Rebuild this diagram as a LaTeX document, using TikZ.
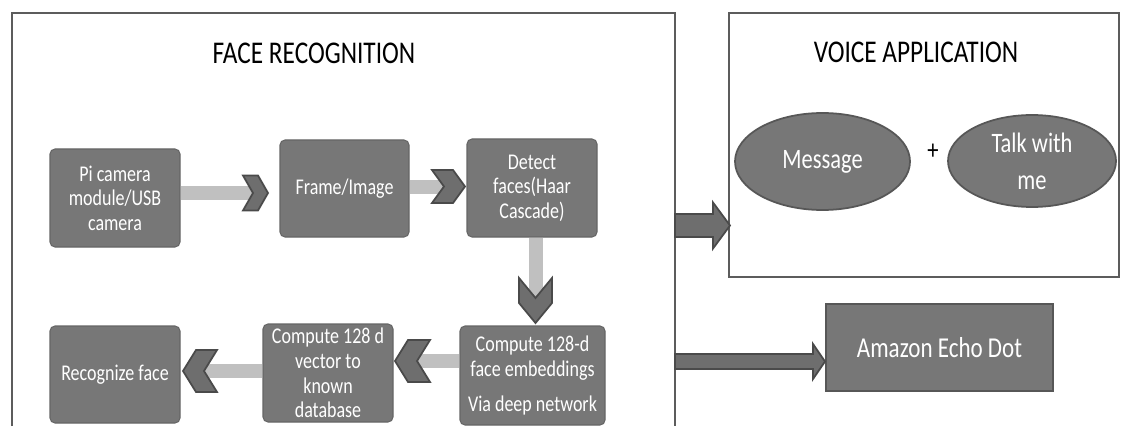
\documentclass[tikz,border=0pt]{standalone}
\usepackage{fontspec}
\setmainfont[FakeStretch=0.8]{Carlito}
\usetikzlibrary{positioning, shapes.geometric, calc}

\definecolor{boxgray}{HTML}{777777}
\definecolor{boxline}{HTML}{666666}
\definecolor{ovalline}{HTML}{575757}
\definecolor{barlight}{HTML}{C0C0C0}
\definecolor{chevgray}{HTML}{6E6E6E}
\definecolor{chevline}{HTML}{4A4A4A}
\definecolor{panelline}{HTML}{5C5C5C}

\tikzset{
    block/.style = {shape = rectangle, rounded corners = 0.05cm, fill = boxgray, draw = boxline,
        line width = 0.3pt, text = white, align = center, inner sep = 0pt,
        minimum width = 1.30cm, minimum height = 0.98cm, font = \fontsize{6.4}{7}\selectfont},
    oval/.style = {shape = ellipse, fill = boxgray, draw = ovalline, line width = 0.5pt,
        text = white, align = center, inner sep = 0pt, font = \fontsize{8}{10.5}\selectfont},
    heading/.style = {anchor = base, inner sep = 0pt, font = \fontsize{9}{11}\selectfont},
    panel/.style = {draw = panelline, line width = 0.6pt},
    bar/.style = {draw = barlight, line width = 0.14cm},
    chev fill/.style = {fill = chevgray, draw = chevline, line width = 0.5pt, line join = miter},
    fat arrow/.style = {fill = chevgray, draw = chevline, line width = 0.5pt},
    % chevron head, tip at the origin: length/half width/notch
    pics/chev/.style args = {#1/#2/#3}{code = {
        \filldraw [chev fill] (0, 0) -- (-#3, #2) -- (-#1, #2) -- (-#1 + #3, 0)
            -- (-#1, -#2) -- (-#3, -#2) -- cycle;
    }}
}

\begin{document}
\begin{tikzpicture}
    \useasboundingbox (0, 0) rectangle (11.21, 4.30);

    % the two panels
    \node [minimum width = 6.63cm, minimum height = 4.13cm, inner sep = 0pt, outer sep = 0pt] (face) at (3.435, 2.105) {};
    \draw [panel] (face.south west) |- (face.north east) -- (face.south east);
    \node [panel, minimum width = 3.90cm, minimum height = 2.64cm, inner sep = 0pt, outer sep = 0pt] (voice) at (9.24, 2.85) {};

    \node [heading] (facetitle) at (3.14, 3.667) {FACE RECOGNITION};
    \node [heading] (voicetitle) at (9.16, 3.67) {VOICE APPLICATION};

    % face recognition steps
    \node [block] (cam) at (1.15, 2.32) {Pi camera\\ module/USB\\ camera};
    \node [block, minimum width = 1.29cm, minimum height = 0.97cm] (frame) at (3.445, 2.415) {Frame/Image};
    \node [block] (detect) at (5.32, 2.42) {Detect\\ faces(Haar\\ Cascade)};
    \node [block, minimum width = 1.45cm, minimum height = 0.99cm] (embed) at (5.325, 0.545) {Compute 128-d\\ face embeddings\\[0.1cm] Via deep network};
    \node [block] (vector) at (3.28, 0.57) {Compute 128 d\\ vector to\\ known\\ database};
    \node [block, minimum height = 0.97cm] (recog) at (1.15, 0.555) {Recognize face};

    % chevron tips
    \coordinate (t1) at (2.68, 2.37);
    \coordinate (t2) at (4.65, 2.435);
    \coordinate (t3) at (5.355, 1.07);
    \coordinate (t4) at (3.95, 0.69);
    \coordinate (t5) at (1.83, 0.59);

    \draw [bar] (cam.east |- t1) -- ([xshift = -0.1cm] t1);
    \draw [bar] (frame.east |- t2) -- ([xshift = -0.1cm] t2);
    \draw [bar] (detect.south -| t3) -- ([yshift = 0.1cm] t3);
    \draw [bar] (embed.west |- t4) -- ([xshift = 0.1cm] t4);
    \draw [bar] (vector.west |- t5) -- ([xshift = 0.1cm] t5);

    \pic at (t1) {chev = 0.25/0.175/0.10};
    \pic at (t2) {chev = 0.33/0.165/0.12};
    \pic [rotate = -90] at (t3) {chev = 0.45/0.165/0.20};
    \pic [rotate = 180] at (t4) {chev = 0.35/0.21/0.13};
    \pic [rotate = 180] at (t5) {chev = 0.34/0.21/0.13};

    % voice application
    \node [oval, minimum width = 1.75cm, minimum height = 0.97cm] (msg) at (8.225, 2.685) {Message};
    \node [font = \fontsize{8}{10}\selectfont] (plus) at (9.33, 2.78) {+};
    \node [oval, minimum width = 1.68cm, minimum height = 0.92cm] (talk) at (10.32, 2.69) {Talk with\\ me};

    \node [block, rounded corners = 0pt, draw = ovalline, line width = 0.5pt, minimum width = 2.27cm,
        minimum height = 0.87cm, font = \fontsize{8.2}{9}\selectfont] (echo) at (9.395, 0.825) {Amazon Echo Dot};

    % outputs of the face panel
    \coordinate (vin) at (7.30, 2.045);
    \coordinate (ein) at (8.25, 0.685);
    \filldraw [fat arrow] ($(face.east |- vin) + (0, 0.115)$) -- ($(vin) + (-0.17, 0.115)$) -- ($(vin) + (-0.17, 0.23)$)
        -- (vin) -- ($(vin) + (-0.17, -0.23)$) -- ($(vin) + (-0.17, -0.115)$) -- ($(face.east |- vin) + (0, -0.115)$) -- cycle;
    \filldraw [fat arrow] ($(face.east |- ein) + (0, 0.075)$) -- ($(ein) + (-0.12, 0.075)$) -- ($(ein) + (-0.12, 0.175)$)
        -- (ein) -- ($(ein) + (-0.12, -0.175)$) -- ($(ein) + (-0.12, -0.075)$) -- ($(face.east |- ein) + (0, -0.075)$) -- cycle;
\end{tikzpicture}
\end{document}
